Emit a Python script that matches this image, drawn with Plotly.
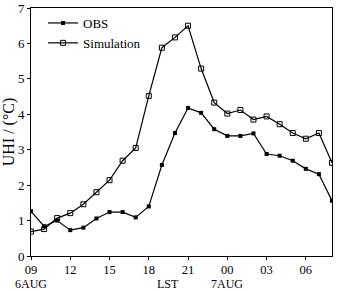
import plotly.graph_objects as go

# hours since 00 on 6 AUG (09 LST 6AUG .. 08 LST 7AUG)
hours = list(range(9, 33))
obs = [1.26, 0.84, 1.0, 0.73, 0.80, 1.06, 1.24, 1.24, 1.09, 1.40, 2.57, 3.47,
       4.18, 4.04, 3.58, 3.39, 3.39, 3.46, 2.88, 2.83, 2.69, 2.46, 2.31, 1.56]
sim = [0.69, 0.76, 1.07, 1.21, 1.46, 1.80, 2.14, 2.69, 3.05, 4.52, 5.88, 6.17,
       6.50, 5.29, 4.33, 4.02, 4.12, 3.85, 3.94, 3.72, 3.47, 3.31, 3.47, 2.63]
tick_vals = [9, 12, 15, 18, 21, 24, 27, 30]
tick_text = ["09", "12", "15", "18", "21", "00", "03", "06"]

font_family = "Liberation Serif"

fig = go.Figure()
fig.add_trace(go.Scatter(
    x=hours, y=obs, name="OBS", mode="lines+markers",
    line=dict(color="black", width=1.2),
    marker=dict(symbol="square", size=4, color="black"),
))
fig.add_trace(go.Scatter(
    x=hours, y=sim, name="Simulation", mode="lines+markers",
    line=dict(color="black", width=1.2),
    marker=dict(symbol="square-open", size=5, color="black", line=dict(width=1)),
))

annotations = [
    dict(x=9, y=0, xref="x", yref="paper", text="6AUG", showarrow=False,
         yshift=-28, xanchor="center", yanchor="middle", borderpad=0,
         font=dict(size=12)),
    dict(x=24, y=0, xref="x", yref="paper", text="7AUG", showarrow=False,
         yshift=-28, xanchor="center", yanchor="middle", borderpad=0,
         font=dict(size=12)),
    dict(x=19.5, y=0, xref="x", yref="paper", text="LST", showarrow=False,
         yshift=-28, xanchor="center", yanchor="middle", borderpad=0,
         font=dict(size=12)),
]

fig.update_layout(
    width=337, height=291,
    margin=dict(l=31, r=5, t=8, b=35),
    paper_bgcolor="white",
    plot_bgcolor="white",
    font=dict(family=font_family, color="black", size=13),
    showlegend=True,
    legend=dict(x=0.04, y=1.0, xanchor="left", yanchor="top",
                bgcolor="rgba(0,0,0,0)", font=dict(size=13),
                itemwidth=30, tracegroupgap=0),
    annotations=annotations,
)
fig.update_xaxes(range=[9, 32], tickvals=tick_vals, ticktext=tick_text,
                 tickfont=dict(size=12.5), ticklabelstandoff=-1,
                 showgrid=False, zeroline=False, showline=True, linecolor="black",
                 linewidth=1, mirror=True, ticks="outside", ticklen=3,
                 tickcolor="black", automargin=False)
fig.update_yaxes(range=[0, 7], dtick=1, title=dict(text="UHI / (°C)", standoff=2),
                 showgrid=False, zeroline=False, showline=True, linecolor="black",
                 linewidth=1, mirror=True, ticks="outside", ticklen=3,
                 tickcolor="black", automargin=False)

# page body has a default 8px margin; drop it so the figure fills the window
fig.write_html("out.html", config={"displayModeBar": False},
               post_script="document.body.style.margin='0';")
